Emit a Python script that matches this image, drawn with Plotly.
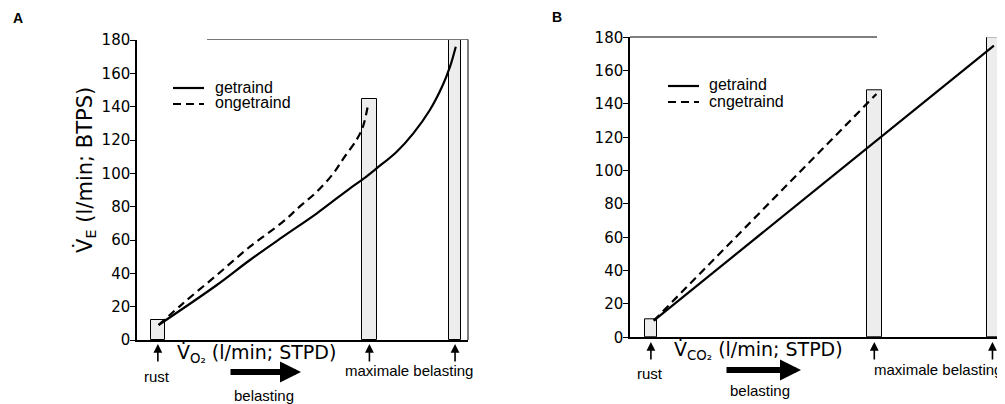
import plotly.graph_objects as go

# ---------------- data ----------------
# Panel A: VO2 (l/min; STPD) vs VE (l/min; BTPS)
vo2_getraind = [0.30, 1.11, 1.57, 2.03, 2.50, 2.96, 3.14, 3.33, 3.61, 3.84, 4.07, 4.25, 4.35, 4.43]
ve_getraind_A = [9, 33, 48, 62, 76, 91, 96.5, 103, 113, 124, 138, 153, 164, 176]
vo2_ongetraind = [0.30, 0.64, 1.11, 1.57, 2.03, 2.26, 2.50, 2.73, 2.87, 3.05, 3.14, 3.21]
ve_ongetraind_A = [9, 22, 39, 56, 71, 80, 89, 100, 109, 120, 128, 141]

# Panel B: VCO2 (l/min; STPD) vs VE
vco2_getraind = [0.33, 5.05]
ve_getraind_B = [10, 175]
vco2_ongetraind = [0.33, 3.42]
ve_ongetraind_B = [10, 146]

# boxes: rust, maximale belasting ongetraind, maximale belasting getraind
box_x_A = [0.29, 3.23, 4.42]
box_w_A = [0.19, 0.20, 0.17]
box_top_A = [12, 144.5, 180]
box_x_B = [0.29, 3.39, 5.03]
box_w_B = [0.16, 0.21, 0.16]
box_top_B = [11, 148.5, 180]

y_ticks = [0, 20, 40, 60, 80, 100, 120, 140, 160, 180]
x_range_A = [0, 4.60]
x_range_B = [0, 5.19]

series_names_A = ["getraind", "ongetraind"]
series_names_B = ["getraind", "cngetraind"]

# page body has an 8px margin -> figure sized/offset accordingly
OFF = 8
W, H = 1005 - OFF, 404 - OFF
def px(v):
    return (v - OFF) / W
def py(v):
    return 1 - (v - OFF) / H

fig = go.Figure()

# boxes
fig.add_trace(go.Bar(x=box_x_A, y=box_top_A, width=box_w_A, xaxis="x", yaxis="y",
                     marker=dict(color="#ededed", line=dict(color="black", width=1)),
                     showlegend=False, hoverinfo="skip"))
fig.add_trace(go.Bar(x=box_x_B, y=box_top_B, width=box_w_B, xaxis="x2", yaxis="y2",
                     marker=dict(color="#ededed", line=dict(color="black", width=1)),
                     showlegend=False, hoverinfo="skip"))

dash = "8px,5px"
lw = 2.2
fig.add_trace(go.Scatter(x=vo2_getraind, y=ve_getraind_A, mode="lines", name=series_names_A[0],
                         line=dict(color="black", width=lw, shape="spline", smoothing=1.0),
                         xaxis="x", yaxis="y", showlegend=False))
fig.add_trace(go.Scatter(x=vo2_ongetraind, y=ve_ongetraind_A, mode="lines", name=series_names_A[1],
                         line=dict(color="black", width=lw, dash=dash, shape="spline", smoothing=1.0),
                         xaxis="x", yaxis="y", showlegend=False))
fig.add_trace(go.Scatter(x=vco2_getraind, y=ve_getraind_B, mode="lines", name=series_names_B[0],
                         line=dict(color="black", width=lw),
                         xaxis="x2", yaxis="y2", showlegend=False))
fig.add_trace(go.Scatter(x=vco2_ongetraind, y=ve_ongetraind_B, mode="lines", name=series_names_B[1],
                         line=dict(color="black", width=lw, dash=dash),
                         xaxis="x2", yaxis="y2", showlegend=False))

tickfont = dict(family="DejaVu Sans", size=15, color="black")
xcommon = dict(showticklabels=False, ticks="", showgrid=False, zeroline=False, automargin=False,
               showline=True, linecolor="black", linewidth=1.5, fixedrange=True)
ycommon = dict(range=[0, 180], tickvals=y_ticks, ticks="outside", ticklen=5, tickwidth=1,
               tickcolor="black", showgrid=False, zeroline=False, showline=True, automargin=False,
               linecolor="black", linewidth=1.5, tickfont=tickfont, fixedrange=True,
               ticklabelstandoff=-3)

fig.update_layout(
    width=W, height=H, autosize=False,
    margin=dict(l=0, r=0, t=0, b=0, pad=0, autoexpand=False),
    paper_bgcolor="white", plot_bgcolor="white",
    bargap=0, showlegend=False,
    xaxis=dict(domain=[px(137), px(468)], range=x_range_A, anchor="y", **xcommon),
    yaxis=dict(domain=[py(340), py(40)], anchor="x", **ycommon),
    xaxis2=dict(domain=[px(630), px(1004)], range=x_range_B, anchor="y2", **xcommon),
    yaxis2=dict(domain=[py(337.3), py(37.3)], anchor="x2", **ycommon),
)

# frame lines (top and right) + legend samples
shapes = [
    dict(type="line", xref="paper", yref="paper", x0=px(207), x1=px(468), y0=py(39.5), y1=py(39.5),
         line=dict(color="#777777", width=1)),
    dict(type="line", xref="paper", yref="paper", x0=px(468), x1=px(468), y0=py(340), y1=py(39.5),
         line=dict(color="black", width=1)),
    dict(type="line", xref="paper", yref="paper", x0=px(630), x1=px(877), y0=py(37), y1=py(37),
         line=dict(color="black", width=1)),
    dict(type="line", xref="paper", yref="paper", x0=px(1004), x1=px(1004), y0=py(337.3), y1=py(37),
         line=dict(color="black", width=1)),
    # legend samples
    dict(type="line", xref="paper", yref="paper", x0=px(173), x1=px(204), y0=py(88), y1=py(88),
         line=dict(color="black", width=lw)),
    dict(type="line", xref="paper", yref="paper", x0=px(173), x1=px(204), y0=py(104), y1=py(104),
         line=dict(color="black", width=lw, dash=dash)),
    dict(type="line", xref="paper", yref="paper", x0=px(668), x1=px(699), y0=py(86), y1=py(86),
         line=dict(color="black", width=lw)),
    dict(type="line", xref="paper", yref="paper", x0=px(668), x1=px(699), y0=py(102), y1=py(102),
         line=dict(color="black", width=lw, dash=dash)),
]
fig.update_layout(shapes=shapes)

ann = []
label_font = dict(family="Liberation Sans", size=15, color="black")
leg_font = dict(family="Liberation Sans", size=16, color="black")
title_font = dict(family="DejaVu Sans", size=19, color="black")

def text(t, x, y, font, xanchor="center", **kw):
    ann.append(dict(text=t, x=px(x), y=py(y), xref="paper", yref="paper", showarrow=False,
                    xanchor=xanchor, yanchor="middle", font=font, **kw))

# panel letters
text("<b>A</b>", 18, 18, dict(family="Liberation Sans", size=14, color="black"))
text("<b>B</b>", 557, 17, dict(family="Liberation Sans", size=14, color="black"))

# legends
text(series_names_A[0], 213, 87, leg_font, xanchor="left")
text(series_names_A[1], 213, 103, leg_font, xanchor="left")
text(series_names_B[0], 707, 85, leg_font, xanchor="left")
text(series_names_B[1], 707, 101, leg_font, xanchor="left")

# axis titles
text("V\u0307<sub>E</sub> (l/min; BTPS)", 85, 170, dict(family="DejaVu Sans", size=21, color="black"),
     textangle=-90)
text("V\u0307<sub>O\u2082</sub> (l/min; STPD)", 175, 353, title_font, xanchor="left")
text("V\u0307<sub>CO\u2082</sub> (l/min; STPD)", 672, 350, title_font, xanchor="left")

# small arrows under boxes
for xa, xv, tip in [("x", box_x_A, 344), ("x2", box_x_B, 342)]:
    for v in xv:
        ann.append(dict(text="", x=v, y=py(tip), xref=xa, yref="paper", ax=0, ay=19,
                        showarrow=True, arrowhead=2, arrowsize=1.1, arrowwidth=1.6, arrowcolor="black"))

# labels under the axes
text("rust", 157, 376, label_font)
text("rust", 650, 373, label_font)
text("maximale belasting", 409, 370, label_font)
text("maximale belasting", 1004, 369, label_font, xanchor="right")
text("belasting", 264, 395, label_font)
text("belasting", 760, 390, label_font)

# thick 'belasting' arrows
ann.append(dict(text="", x=px(301), y=py(372), xref="paper", yref="paper", ax=-72, ay=0,
                showarrow=True, arrowhead=2, arrowsize=0.7, arrowwidth=6, arrowcolor="black"))
ann.append(dict(text="", x=px(801), y=py(370), xref="paper", yref="paper", ax=-76, ay=0,
                showarrow=True, arrowhead=2, arrowsize=0.7, arrowwidth=6, arrowcolor="black"))

fig.update_layout(annotations=ann)
fig.write_html("out.html")
